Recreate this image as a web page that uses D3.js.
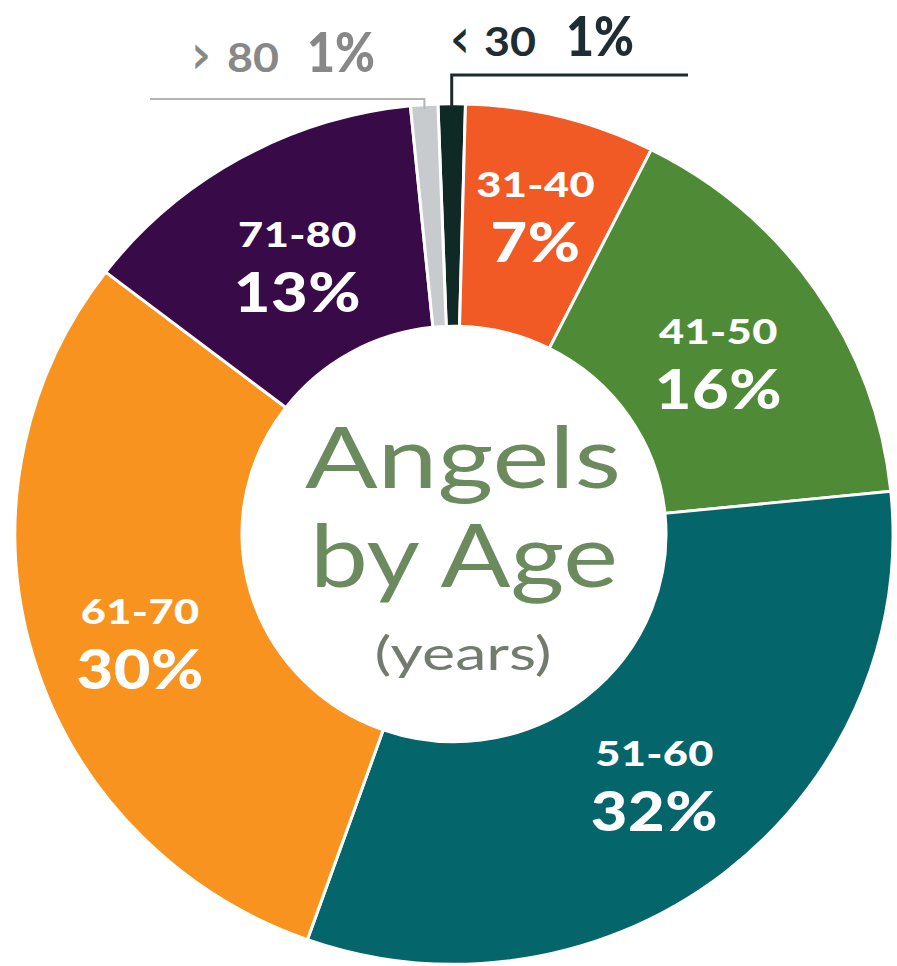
<!DOCTYPE html>
<html>
<head>
<meta charset="utf-8">
<script src="https://cdn.jsdelivr.net/npm/d3@7"></script>
<style>
  html, body { margin: 0; padding: 0; background: #ffffff; }
  svg { display: block; }
</style>
</head>
<body>
<svg id="chart" width="897" height="966"></svg>
<script>
// Age groups, clockwise from the top
const ageGroups = ["< 30", "31-40", "41-50", "51-60", "61-70", "71-80", "> 80"];
const shares = [1, 7, 16, 32, 30, 13, 1];
const sliceColors = ["#0f2a24", "#f15a24", "#4f8a36", "#04666b", "#f7931e", "#380a47", "#c8cbcd"];

// Groups labelled outside the ring with leader lines
const outsideGroups = ["< 30", "> 80"];

const cx = 454, cy = 534;
const squash = 0.98;             // ring is drawn very slightly flattened
const outerR = 439, innerR = 212;
const startDeg = -2.1;

const svg = d3.select("#chart");

const pie = d3.pie()
  .value(d => d.value)
  .sort(null)
  .startAngle(startDeg * Math.PI / 180)
  .endAngle(startDeg * Math.PI / 180 + 2 * Math.PI);

const data = ageGroups.map((g, i) => ({ group: g, value: shares[i], color: sliceColors[i] }));
const arcs = pie(data);

const arc = d3.arc().innerRadius(innerR).outerRadius(outerR);

const ring = svg.append("g")
  .attr("transform", `translate(${cx},${cy}) scale(1,${squash})`);

ring.selectAll("path.slice")
  .data(arcs)
  .join("path")
  .attr("class", "slice")
  .attr("d", arc)
  .attr("fill", d => d.data.color)
  .attr("stroke", "#ffffff")
  .attr("stroke-width", 3)
  .attr("stroke-linejoin", "miter");

// white hub
ring.append("circle").attr("r", innerR - 1).attr("fill", "#ffffff");

// point on the ring at angle a (radians, clockwise from 12 o'clock)
const polar = (a, r) => [cx + r * Math.sin(a), cy - squash * r * Math.cos(a)];

// in-slice labels: placed on a mid-ring circle, with small hand tweaks
const labelR = 325;
const labelTweak = {
  "31-40": { dr: 10, da: 0 },
  "41-50": { dr: -8, da: 1 },
  "51-60": { dr: 0, da: 0 },
  "61-70": { dr: 8, da: -3 },
  "71-80": { dr: -10, da: -0.7 }
};
const fontLbl = "Lato, 'Open Sans', sans-serif";

const inside = arcs.filter(d => !outsideGroups.includes(d.data.group));
const lbl = svg.append("g").selectAll("g.lbl")
  .data(inside)
  .join("g")
  .attr("class", "lbl")
  .attr("transform", d => {
    const tw = labelTweak[d.data.group] || { dr: 0, da: 0 };
    const mid = (d.startAngle + d.endAngle) / 2 + tw.da * Math.PI / 180;
    const [x, y] = polar(mid, labelR + tw.dr);
    return `translate(${x},${y})`;
  });

lbl.append("text")
  .attr("text-anchor", "middle")
  .attr("transform", "translate(0,-19) scale(1.24,1)")
  .attr("font-family", fontLbl)
  .attr("font-weight", 900)
  .attr("font-size", 35)
  .attr("letter-spacing", 0.3)
  .attr("fill", "#ffffff")
  .text(d => d.data.group);

lbl.append("text")
  .attr("text-anchor", "middle")
  .attr("transform", "translate(0,46) scale(1.15,1)")
  .attr("font-family", fontLbl)
  .attr("font-weight", 900)
  .attr("font-size", 55)
  .attr("letter-spacing", 0.5)
  .attr("fill", "#ffffff")
  .text(d => d.value + "%");

// outside labels with leader lines
const leaderSpec = {
  "< 30": { y: 75, x2: 688, stroke: "#1d2b2c", width: 3, color: "#1d2d33",
            symX: 451, numX: 484, pctX: 566, baseline: 56 },
  "> 80": { y: 99, x2: 150, stroke: "#b4b4b4", width: 2, color: "#888888",
            symX: 192, numX: 227, pctX: 307, baseline: 72 }
};

arcs.filter(d => outsideGroups.includes(d.data.group)).forEach(d => {
  const s = leaderSpec[d.data.group];
  const mid = (d.startAngle + d.endAngle) / 2;
  const [px, py] = polar(mid, outerR - 4);
  svg.append("path")
    .attr("d", `M${px},${py} L${px},${s.y} L${s.x2},${s.y}`)
    .attr("fill", "none")
    .attr("stroke", s.stroke)
    .attr("stroke-width", s.width);

  const [sym, num] = d.data.group.split(" ");
  const t = svg.append("text")
    .attr("font-family", fontLbl)
    .attr("font-weight", 700)
    .attr("fill", s.color);
  t.append("tspan").attr("x", s.symX).attr("y", s.baseline + 3).attr("font-size", 54)
    .attr("textLength", 18).attr("lengthAdjust", "spacingAndGlyphs").text(sym);
  t.append("tspan").attr("x", s.numX).attr("y", s.baseline).attr("font-size", 40)
    .attr("textLength", 52).attr("lengthAdjust", "spacingAndGlyphs").text(num);
  t.append("tspan").attr("x", s.pctX).attr("y", s.baseline).attr("font-size", 55).attr("font-weight", 900)
    .attr("textLength", 68).attr("lengthAdjust", "spacingAndGlyphs").text(d.data.value + "%");
});

// hub title
const hub = svg.append("g").attr("text-anchor", "middle").attr("font-family", "Lato, sans-serif");
hub.append("text")
  .attr("x", 463).attr("y", 488)
  .attr("font-size", 86).attr("font-weight", 400)
  .attr("fill", "#6b8a5e")
  .attr("textLength", 316).attr("lengthAdjust", "spacingAndGlyphs")
  .text("Angels");
hub.append("text")
  .attr("x", 464).attr("y", 587)
  .attr("font-size", 88).attr("font-weight", 400)
  .attr("fill", "#6b8a5e")
  .attr("textLength", 308).attr("lengthAdjust", "spacingAndGlyphs")
  .text("by Age");
hub.append("text")
  .attr("x", 463).attr("y", 670)
  .attr("font-size", 46).attr("font-weight", 400)
  .attr("fill", "#737b6f")
  .attr("textLength", 177).attr("lengthAdjust", "spacingAndGlyphs")
  .text("(years)");
</script>
</body>
</html>
